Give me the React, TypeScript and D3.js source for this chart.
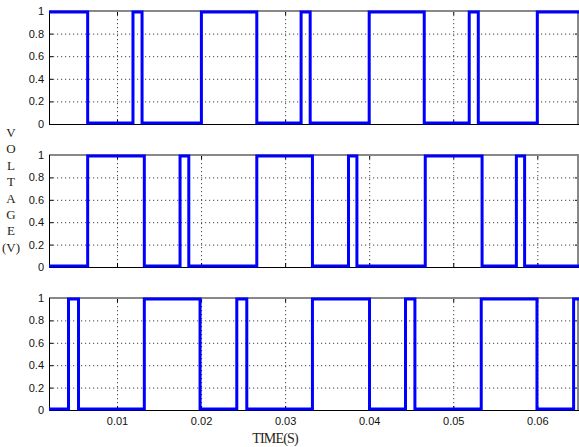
import React from "react";
import * as d3 from "d3";

// switching instants (s), each toggles the level
const topStart = 1;
const topSwitch = [0.00645, 0.01184, 0.01292, 0.01998, 0.02657, 0.03184, 0.03292, 0.03994, 0.04649, 0.05184, 0.05292, 0.05994];
const midStart = 0;
const midSwitch = [0.00645, 0.01319, 0.01744, 0.01848, 0.02657, 0.03319, 0.03748, 0.03848, 0.04661, 0.05337, 0.05745, 0.05843];
const botStart = 0;
const botSwitch = [0.00417, 0.00536, 0.01319, 0.01982, 0.02419, 0.02538, 0.03319, 0.03998, 0.04426, 0.04538, 0.05327, 0.0599, 0.06426];

const xTicks = [0.01, 0.02, 0.03, 0.04, 0.05, 0.06];
const yTicks = [0, 0.2, 0.4, 0.6, 0.8, 1];
const labelLetters = ["V", "O", "L", "T", "A", "G", "E", "(V)"];

const tMin = 0.00185;
const tMax = 0.0649;

const W = 579;
const H = 447;
const left = 49;
const right = 579;
const panels = [
  { start: topStart, sw: topSwitch, y0: 11, y1: 124 },
  { start: midStart, sw: midSwitch, y0: 155, y1: 267 },
  { start: botStart, sw: botSwitch, y0: 298, y1: 410 },
];

const x = d3.scaleLinear().domain([tMin, tMax]).range([left, right]);
const tickFont = "'Liberation Sans Narrow', 'Arial Narrow', 'Liberation Sans', Arial, sans-serif";
const serif = "'Liberation Serif', 'Times New Roman', serif";

function toPoints(start: number, sw: number[]) {
  const pts: [number, number][] = [[tMin, start]];
  let v = start;
  sw.forEach((t) => {
    v = 1 - v;
    pts.push([t, v]);
  });
  pts.push([tMax, v]);
  return pts;
}

function Panel({ p, showX }: { p: any; showX: boolean }) {
  const y = d3.scaleLinear().domain([0, 1]).range([p.y1 - 1, p.y0 + 1]);
  const line = d3
    .line<[number, number]>()
    .x((d) => x(d[0]))
    .y((d) => y(d[1]))
    .curve(d3.curveStepAfter);
  const yy = d3.scaleLinear().domain([0, 1]).range([p.y1, p.y0]);
  return (
    <g>
      {/* grid */}
      {yTicks.slice(1, -1).map((v) => (
        <line key={"gy" + v} x1={left} x2={right} y1={yy(v) + 0.5} y2={yy(v) + 0.5}
          stroke="#444" strokeDasharray="1.2,2.8" strokeWidth={1} />
      ))}
      {xTicks.map((t) => (
        <line key={"gx" + t} x1={x(t)} x2={x(t)} y1={p.y0} y2={p.y1}
          stroke="#444" strokeDasharray="1.2,2.8" strokeWidth={1} />
      ))}
      {/* ticks */}
      {yTicks.map((v) => (
        <g key={"ty" + v}>
          <line x1={left} x2={left + 4} y1={yy(v) + 0.5} y2={yy(v) + 0.5} stroke="#000" />
          <line x1={right - 4} x2={right} y1={yy(v) + 0.5} y2={yy(v) + 0.5} stroke="#000" />
          <text x={left - 5} y={yy(v) + 4} textAnchor="end" fontSize={11}
            fontFamily={tickFont} fill="#111">{v === 0 || v === 1 ? String(v) : String(v)}</text>
        </g>
      ))}
      {xTicks.map((t) => (
        <g key={"tx" + t}>
          <line x1={x(t)} x2={x(t)} y1={p.y1} y2={p.y1 - 4} stroke="#000" />
          <line x1={x(t)} x2={x(t)} y1={p.y0} y2={p.y0 + 4} stroke="#000" />
          {showX && (
            <text x={x(t)} y={p.y1 + 15} textAnchor="middle" fontSize={11}
              fontFamily={tickFont} fill="#111">{String(t)}</text>
          )}
        </g>
      ))}
      {/* frame */}
      <line x1={left} x2={right} y1={p.y0} y2={p.y0} stroke="#888" strokeWidth={2} />
      <line x1={right - 1} x2={right - 1} y1={p.y0} y2={p.y1} stroke="#888" strokeWidth={2} />
      <line x1={left + 0.5} x2={left + 0.5} y1={p.y0} y2={p.y1} stroke="#000" />
      <line x1={left} x2={right} y1={p.y1 + 0.5} y2={p.y1 + 0.5} stroke="#000" />
      {/* signal */}
      <path d={line(toPoints(p.start, p.sw)) || ""} fill="none" stroke="#0000ff" strokeWidth={3} />
    </g>
  );
}

export default function App() {
  return (
    <svg width={W} height={H} style={{ position: "absolute", left: 0, top: 0, background: "#fff" }}>
      <rect width={W} height={H} fill="#fff" />
      {panels.map((p, i) => (
        <Panel key={i} p={p} showX={i === panels.length - 1} />
      ))}
      {labelLetters.map((c, i) => (
        <text key={c + i} x={11} y={137 + i * 16.4} textAnchor="middle" fontSize={13}
          fontFamily={serif} fill="#2a1e14">{c}</text>
      ))}
      <text x={275} y={443} textAnchor="middle" fontSize={14} fontFamily={serif}
        fill="#2a1e14" letterSpacing={-0.8}>TIME(S)</text>
    </svg>
  );
}
